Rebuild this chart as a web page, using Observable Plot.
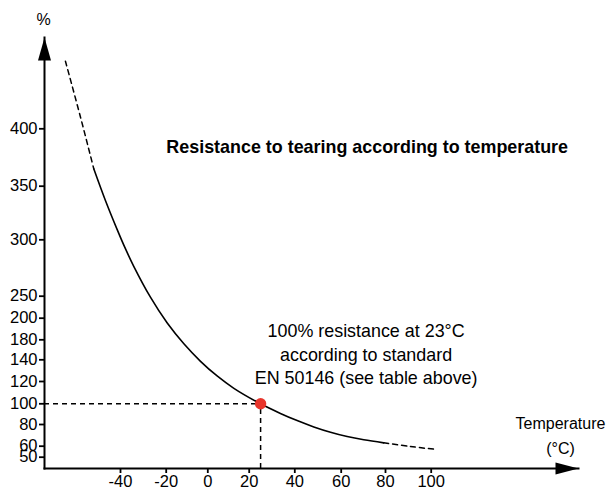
<!DOCTYPE html>
<html>
<head>
<meta charset="utf-8">
<script src="https://cdn.jsdelivr.net/npm/d3@7"></script>
<script src="https://cdn.jsdelivr.net/npm/@observablehq/plot@0.6"></script>
<style>
  html, body { margin: 0; padding: 0; background: #fff; }
</style>
</head>
<body>
<div id="chart"></div>
<script>
// ---- data ----
const xTicks = [-40, -20, 0, 20, 40, 60, 80, 100];
const yTicks = [50, 60, 80, 100, 120, 140, 180, 200, 250, 300, 350, 400];

// extrapolated (dashed) part at low temperatures
const headTemp = [-64.1, -57.5, -51.7];
const headPct  = [458.9, 410.1, 365.2];

// measured (solid) part
const mainTemp = [-51.7, -46.6, -41.4, -37.8, -34.2, -26.9, -19.5, -11.5, -3.5, 4.5, 12.6, 25, 33.7, 41.0, 48.2, 55.4, 62.7, 70.2, 79.2];
const mainPct  = [365.2, 336.7, 309.3, 291.9, 276.5, 247.7, 195.5, 172, 138.6, 125.1, 113.9, 100, 90.7, 83.8, 77.8, 72.9, 68.9, 65.9, 63.1];

// extrapolated (dashed) part at high temperatures
const tailTemp = [79.2, 90.9, 102.6];
const tailPct  = [63.1, 59.7, 57];

// reference point
const refTemp = [25];
const refPct  = [100];

const titleText = ["Resistance to tearing according to temperature"];
const noteText  = ["100% resistance at 23°C\naccording to standard\nEN 50146 (see table above)"];
const yLabel = ["%"];
const xLabel = ["Temperature\n(°C)"];

// ---- layout ----
const W = 608, H = 490;
const mL = 44, mR = 30, mT = 37, mB = 22;
// the reference's axes are not evenly spaced: piecewise scales
const xRange = [120, 165.7, 207.3, 248.7, 294.3, 340.7, 385, 430.7];
const yRange = [456.7, 445.7, 424, 403.3, 381, 359.3, 339.3, 317.7, 295.7, 239.3, 185.7, 128.3];
// data values at the axes' corner (used to start the dashed guides at the axes)
const xAtAxis = d3.scaleLinear(xTicks, xRange).invert(mL);
const yAtAxis = d3.scaleLinear(yTicks, yRange).invert(H - mB);

const rows = (t, p) => t.map((v, i) => ({t: v, p: p[i]}));
const head = rows(headTemp, headPct);
const main = rows(mainTemp, mainPct);
const tail = rows(tailTemp, tailPct);
const ref  = rows(refTemp, refPct);

// arrow heads (tip at the symbol origin)
const arrowUp = {draw(ctx) { ctx.moveTo(0, 0); ctx.lineTo(6.5, 23); ctx.lineTo(-6.5, 23); ctx.closePath(); }};
const arrowRight = {draw(ctx) { ctx.moveTo(0, 0); ctx.lineTo(-23, -6); ctx.lineTo(-23, 6); ctx.closePath(); }};

const font = "'Liberation Sans', Arial, Helvetica, sans-serif";

const chart = Plot.plot({
  width: W,
  height: H,
  marginLeft: mL,
  marginRight: mR,
  marginTop: mT,
  marginBottom: mB,
  style: {fontFamily: font, fontSize: "16px", background: "#fff", color: "#000", overflow: "visible"},
  x: {type: "linear", domain: xTicks, range: xRange, label: null},
  y: {type: "linear", domain: yTicks, range: yRange, label: null},
  marks: [
    Plot.ruleY(ref, {y: "p", x1: () => xAtAxis, x2: "t", stroke: "#000", strokeWidth: 1.5, strokeDasharray: "5,4"}),
    Plot.ruleX(ref, {x: "t", y1: () => yAtAxis, y2: "p", stroke: "#000", strokeWidth: 1.5, strokeDasharray: "5,4"}),
    Plot.frame({anchor: "left", strokeWidth: 2}),
    Plot.frame({anchor: "bottom", strokeWidth: 2}),
    Plot.axisY({ticks: yTicks, tickSize: 5, tickPadding: 2, strokeWidth: 1.8, label: null, tickFormat: d => String(d), fontSize: 16.5}),
    Plot.axisX({ticks: xTicks, tickSize: 5, tickPadding: 2, strokeWidth: 1.8, label: null, tickFormat: d => String(d), fontSize: 16.5}),
    Plot.dot([0], {frameAnchor: "top-left", symbol: arrowUp, fill: "#000", stroke: "none"}),
    Plot.dot([0], {frameAnchor: "bottom-right", symbol: arrowRight, fill: "#000", stroke: "none"}),
    Plot.line(head, {x: "t", y: "p", stroke: "#000", strokeWidth: 1.5, strokeDasharray: "5,4", curve: "catmull-rom"}),
    Plot.line(main, {x: "t", y: "p", stroke: "#000", strokeWidth: 1.6, curve: "catmull-rom"}),
    Plot.line(tail, {x: "t", y: "p", stroke: "#000", strokeWidth: 1.5, strokeDasharray: "5,4", curve: "catmull-rom"}),
    Plot.dot(ref, {x: "t", y: "p", r: 5.7, fill: "#e8352c", stroke: "none"}),
    Plot.text(yLabel, {frameAnchor: "top-left", textAnchor: "middle", dx: -1, dy: -12.7, lineAnchor: "bottom", fontSize: 16, fill: "#000"}),
    Plot.text(xLabel, {frameAnchor: "bottom-right", textAnchor: "middle", dx: -18, dy: -14.5, lineAnchor: "bottom", lineHeight: 1.5625, fontSize: 16, fill: "#000"}),
    Plot.text(titleText, {frameAnchor: "top", textAnchor: "middle", dx: 55.7, dy: 115.7, lineAnchor: "bottom", fontSize: 17.9, fontWeight: "bold", fill: "#000"}),
    Plot.text(noteText, {x: refTemp, y: refPct, textAnchor: "middle", dx: 105.5, dy: -20, lineAnchor: "bottom", lineHeight: 1.3, fontSize: 17.9, fill: "#000"})
  ]
});

document.getElementById("chart").appendChild(chart);
</script>
</body>
</html>
